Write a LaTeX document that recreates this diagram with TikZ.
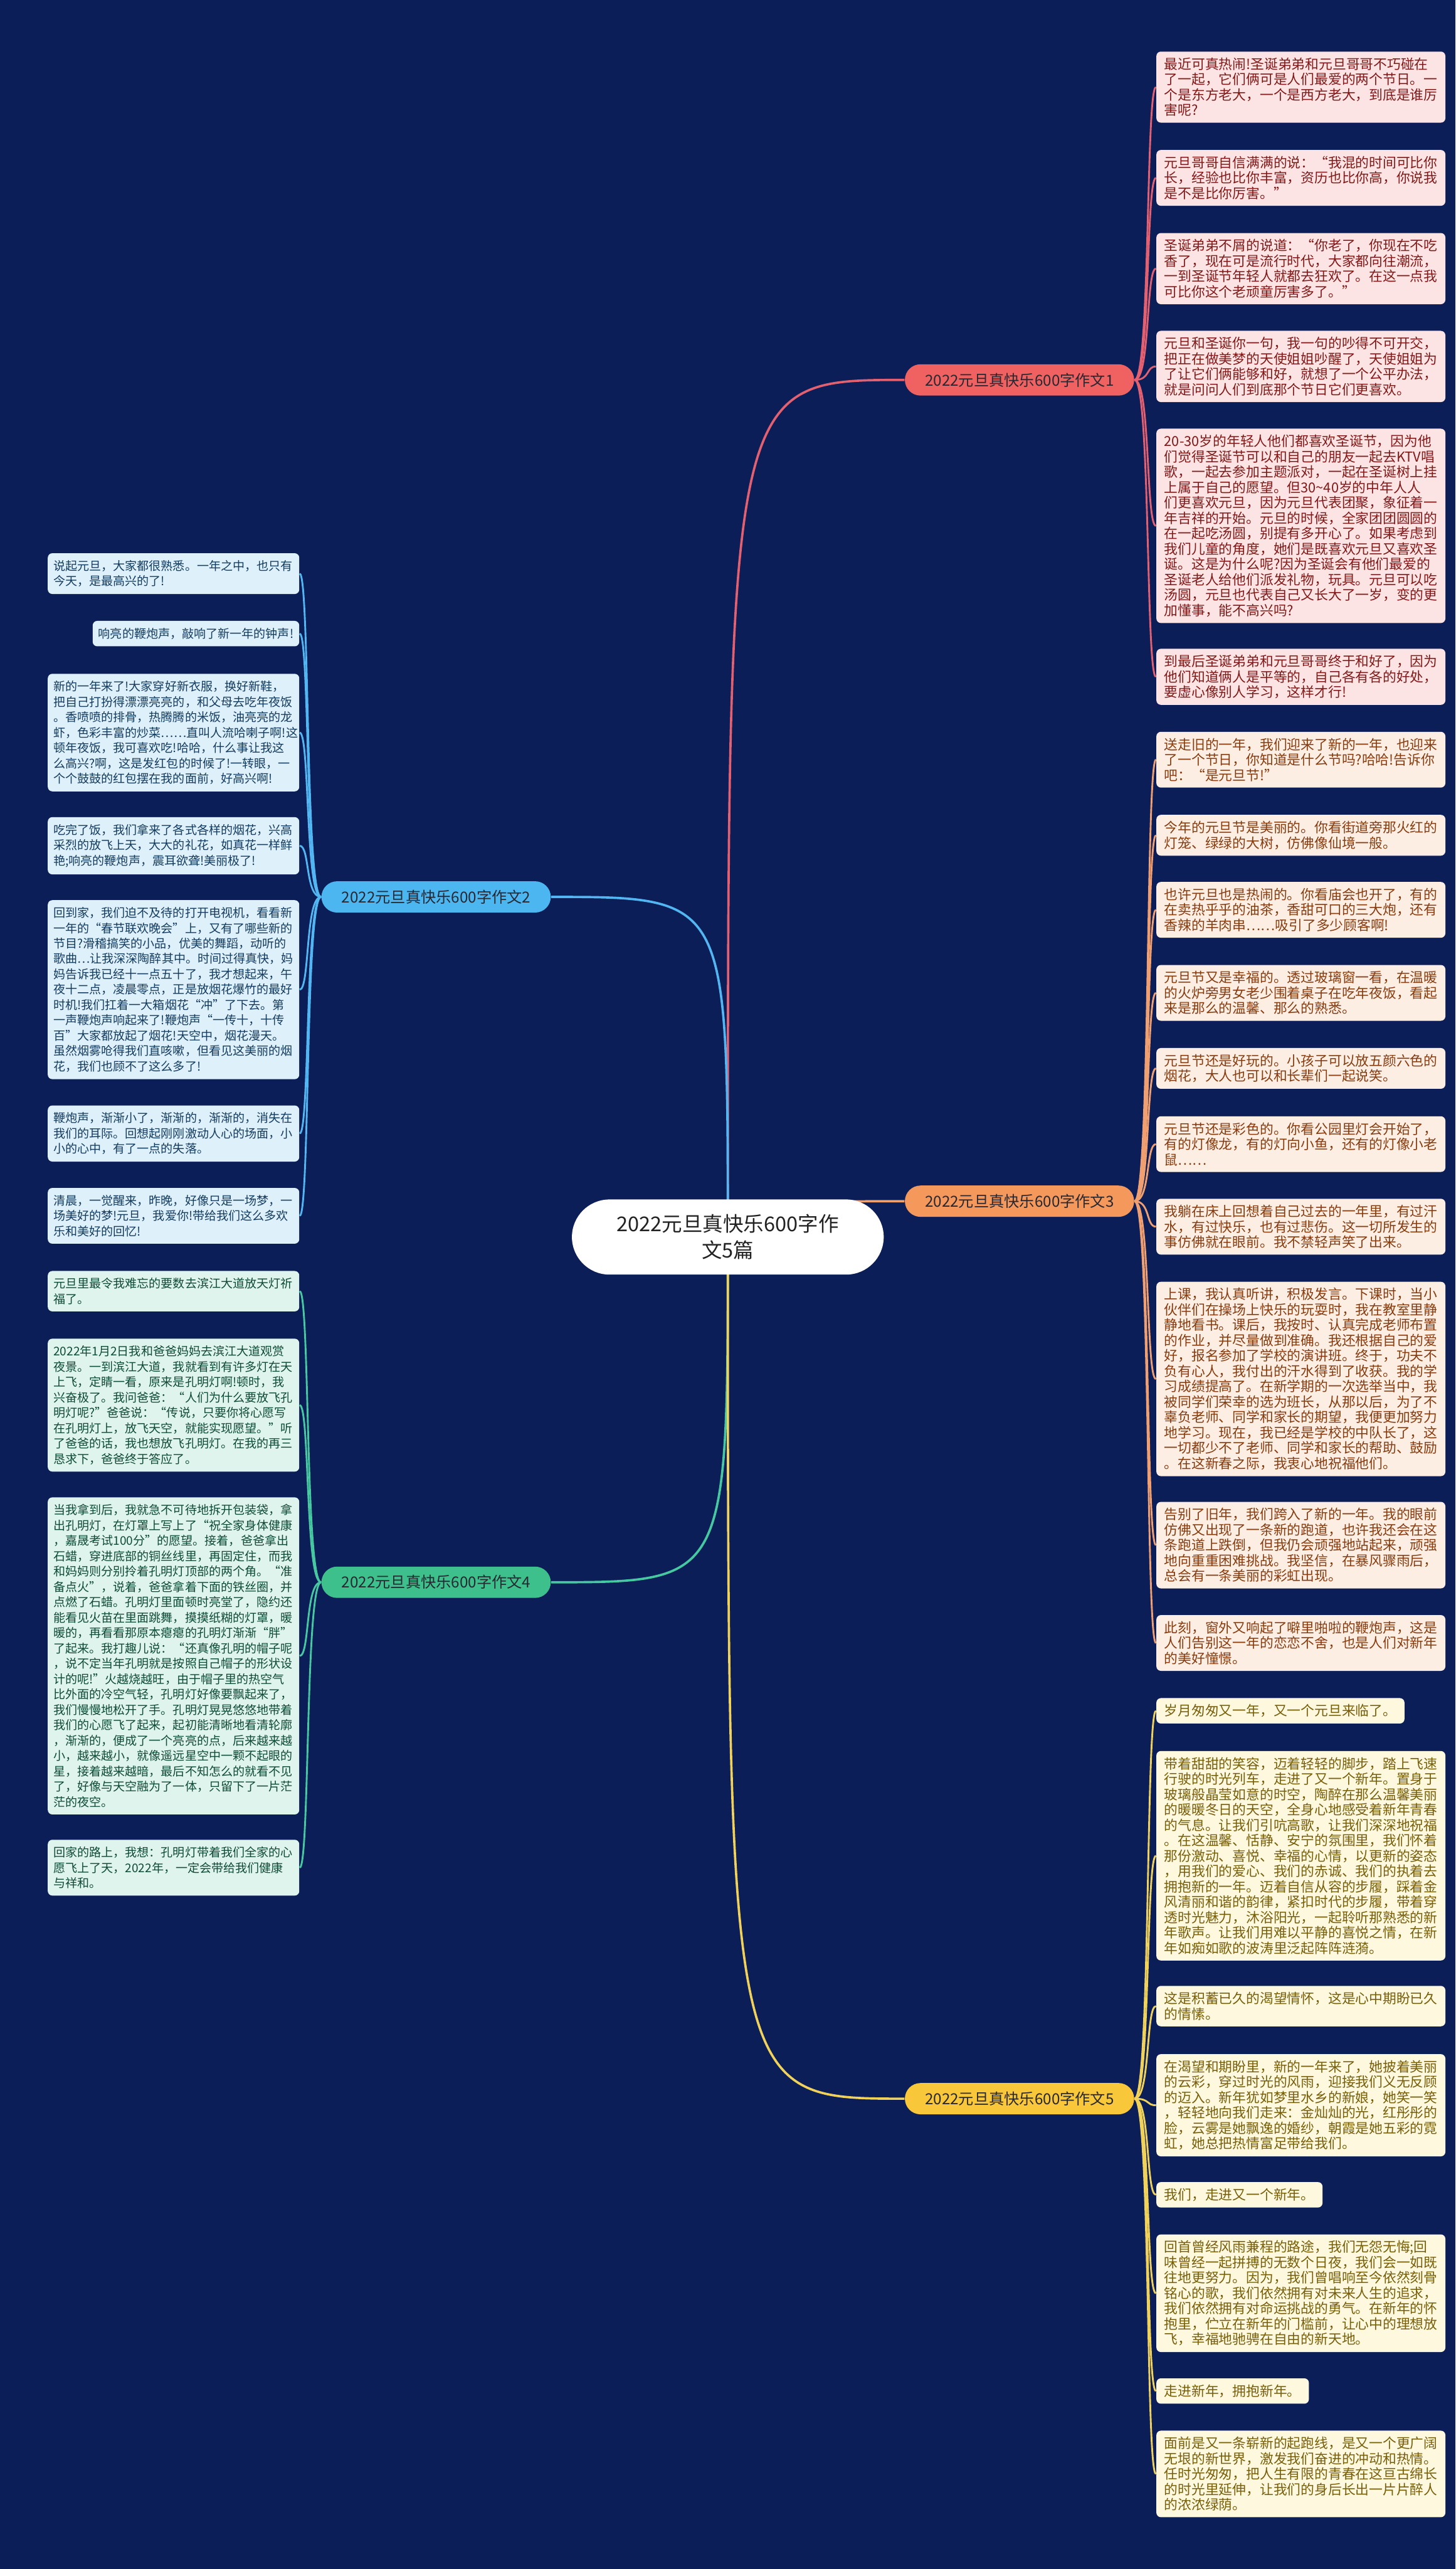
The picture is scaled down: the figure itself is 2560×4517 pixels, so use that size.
\documentclass[tikz,border=0pt]{standalone}
\usepackage{fontspec}
\setmainfont{Noto Sans CJK SC}
\usetikzlibrary{backgrounds}

\definecolor{night}{RGB}{12,30,88}
\definecolor{rootink}{RGB}{34,34,34}
\definecolor{brink}{RGB}{40,40,50}
% branch 1 (red)
\definecolor{redpill}{RGB}{240,98,98}
\definecolor{redwire}{RGB}{226,96,112}
\definecolor{redfill}{RGB}{253,228,228}
\definecolor{redink}{RGB}{130,25,25}
% branch 2 (blue)
\definecolor{bluepill}{RGB}{76,182,240}
\definecolor{bluewire}{RGB}{82,182,242}
\definecolor{bluefill}{RGB}{222,240,250}
\definecolor{blueink}{RGB}{20,60,95}
% branch 3 (orange)
\definecolor{orgpill}{RGB}{244,152,92}
\definecolor{orgwire}{RGB}{240,160,112}
\definecolor{orgfill}{RGB}{253,238,228}
\definecolor{orgink}{RGB}{135,60,15}
% branch 4 (green)
\definecolor{grnpill}{RGB}{62,192,140}
\definecolor{grnwire}{RGB}{70,200,160}
\definecolor{grnfill}{RGB}{222,244,236}
\definecolor{grnink}{RGB}{15,75,55}
% branch 5 (yellow)
\definecolor{ylwpill}{RGB}{248,199,58}
\definecolor{ylwwire}{RGB}{240,210,90}
\definecolor{ylwfill}{RGB}{253,248,222}
\definecolor{ylwink}{RGB}{120,95,10}

\begin{document}
\begin{tikzpicture}[x=0.01cm, y=-0.01cm,
    root/.style={fill=white, text=rootink, rounded corners=0.66cm, minimum width=5.48cm,
      minimum height=1.32cm, align=center, font=\fontsize{10.2pt}{13.1pt}\selectfont},
    branch/.style={rounded corners=0.275cm, minimum width=4.03cm, minimum height=0.55cm,
      inner sep=0pt, text=brink, font=\fontsize{7.6pt}{8pt}\selectfont},
    boxL/.style={rounded corners=0.08cm, inner xsep=0.1cm, inner ysep=3.5pt, align=left,
      anchor=north east, font=\fontsize{5.98pt}{7.68pt}\selectfont},
    boxR/.style={rounded corners=0.08cm, inner xsep=0.14cm, inner ysep=3.1pt, align=left,
      anchor=north west, font=\fontsize{6.83pt}{7.68pt}\selectfont},
    leafL/.style={boxL, text width=4.22cm},
    leafR/.style={boxR, text width=4.8cm},
    wire/.style={line width=0.9pt},
    trunk/.style={line width=1.15pt}]

    % Title
    \node[root](T) at (1280, 2175) {2022元旦真快乐600字作\\文5篇};

    % Branches
    \node[branch, fill=redpill](S1) at (1793, 668) {2022元旦真快乐600字作文1};
    \node[branch, fill=bluepill](S2) at (767, 1577) {2022元旦真快乐600字作文2};
    \node[branch, fill=orgpill](S3) at (1793, 2112) {2022元旦真快乐600字作文3};
    \node[branch, fill=grnpill](S4) at (767, 2782) {2022元旦真快乐600字作文4};
    \node[branch, fill=ylwpill](S5) at (1793, 3690) {2022元旦真快乐600字作文5};

    % Leaves of 1
    \node[leafR, fill=redfill, text=redink](A1) at (2033, 90) {最近可真热闹!圣诞弟弟和元旦哥哥不巧碰在\\了一起，它们俩可是人们最爱的两个节日。一\\个是东方老大，一个是西方老大，到底是谁厉\\害呢?};
    \node[leafR, fill=redfill, text=redink](A2) at (2033, 263) {元旦哥哥自信满满的说：“我混的时间可比你\\长，经验也比你丰富，资历也比你高，你说我\\是不是比你厉害。”};
    \node[leafR, fill=redfill, text=redink](A3) at (2033, 409) {圣诞弟弟不屑的说道：“你老了，你现在不吃\\香了，现在可是流行时代，大家都向往潮流，\\一到圣诞节年轻人就都去狂欢了。在这一点我\\可比你这个老顽童厉害多了。”};
    \node[leafR, fill=redfill, text=redink](A4) at (2033, 581) {元旦和圣诞你一句，我一句的吵得不可开交，\\把正在做美梦的天使姐姐吵醒了，天使姐姐为\\了让它们俩能够和好，就想了一个公平办法，\\就是问问人们到底那个节日它们更喜欢。};
    \node[leafR, fill=redfill, text=redink](A5) at (2033, 753) {20-30岁的年轻人他们都喜欢圣诞节，因为他\\们觉得圣诞节可以和自己的朋友一起去KTV唱\\歌，一起去参加主题派对，一起在圣诞树上挂\\上属于自己的愿望。但30\textasciitilde40岁的中年人人\\们更喜欢元旦，因为元旦代表团聚，象征着一\\年吉祥的开始。元旦的时候，全家团团圆圆的\\在一起吃汤圆，别提有多开心了。如果考虑到\\我们儿童的角度，她们是既喜欢元旦又喜欢圣\\诞。这是为什么呢?因为圣诞会有他们最爱的\\圣诞老人给他们派发礼物，玩具。元旦可以吃\\汤圆，元旦也代表自己又长大了一岁，变的更\\加懂事，能不高兴吗?};
    \node[leafR, fill=redfill, text=redink](A6) at (2033, 1140) {到最后圣诞弟弟和元旦哥哥终于和好了，因为\\他们知道俩人是平等的，自己各有各的好处，\\要虚心像别人学习，这样才行!};

    % Leaves of 2
    \node[leafL, fill=bluefill, text=blueink](B1) at (527, 972) {说起元旦，大家都很熟悉。一年之中，也只有\\今天，是最高兴的了!};
    \node[boxL, fill=bluefill, text=blueink](B2) at (527, 1091) {响亮的鞭炮声，敲响了新一年的钟声!};
    \node[leafL, fill=bluefill, text=blueink](B3) at (527, 1184) {新的一年来了!大家穿好新衣服，换好新鞋，\\把自己打扮得漂漂亮亮的，和父母去吃年夜饭\\。香喷喷的排骨，热腾腾的米饭，油亮亮的龙\\虾，色彩丰富的炒菜……直叫人流哈喇子啊!这\\顿年夜饭，我可喜欢吃!哈哈，什么事让我这\\么高兴?啊，这是发红包的时候了!一转眼，一\\个个鼓鼓的红包摆在我的面前，好高兴啊!};
    \node[leafL, fill=bluefill, text=blueink](B4) at (527, 1436) {吃完了饭，我们拿来了各式各样的烟花，兴高\\采烈的放飞上天，大大的礼花，如真花一样鲜\\艳;响亮的鞭炮声，震耳欲聋!美丽极了!};
    \node[leafL, fill=bluefill, text=blueink](B5) at (527, 1582) {回到家，我们迫不及待的打开电视机，看看新\\一年的“春节联欢晚会”上，又有了哪些新的\\节目?滑稽搞笑的小品，优美的舞蹈，动听的\\歌曲…让我深深陶醉其中。时间过得真快，妈\\妈告诉我已经十一点五十了，我才想起来，午\\夜十二点，凌晨零点，正是放烟花爆竹的最好\\时机!我们扛着一大箱烟花“冲”了下去。第\\一声鞭炮声响起来了!鞭炮声“一传十，十传\\百”大家都放起了烟花!天空中，烟花漫天。\\虽然烟雾呛得我们直咳嗽，但看见这美丽的烟\\花，我们也顾不了这么多了!};
    \node[leafL, fill=bluefill, text=blueink](B6) at (527, 1943) {鞭炮声，渐渐小了，渐渐的，渐渐的，消失在\\我们的耳际。回想起刚刚激动人心的场面，小\\小的心中，有了一点的失落。};
    \node[leafL, fill=bluefill, text=blueink](B7) at (527, 2088) {清晨，一觉醒来，昨晚，好像只是一场梦，一\\场美好的梦!元旦，我爱你!带给我们这么多欢\\乐和美好的回忆!};

    % Leaves of 3
    \node[leafR, fill=orgfill, text=orgink](C1) at (2033, 1286) {送走旧的一年，我们迎来了新的一年，也迎来\\了一个节日，你知道是什么节吗?哈哈!告诉你\\吧：“是元旦节!”};
    \node[leafR, fill=orgfill, text=orgink](C2) at (2033, 1432) {今年的元旦节是美丽的。你看街道旁那火红的\\灯笼、绿绿的大树，仿佛像仙境一般。};
    \node[leafR, fill=orgfill, text=orgink](C3) at (2033, 1550) {也许元旦也是热闹的。你看庙会也开了，有的\\在卖热乎乎的油茶，香甜可口的三大炮，还有\\香辣的羊肉串……吸引了多少顾客啊!};
    \node[leafR, fill=orgfill, text=orgink](C4) at (2033, 1696) {元旦节又是幸福的。透过玻璃窗一看，在温暖\\的火炉旁男女老少围着桌子在吃年夜饭，看起\\来是那么的温馨、那么的熟悉。};
    \node[leafR, fill=orgfill, text=orgink](C5) at (2033, 1842) {元旦节还是好玩的。小孩子可以放五颜六色的\\烟花，大人也可以和长辈们一起说笑。};
    \node[leafR, fill=orgfill, text=orgink](C6) at (2033, 1962) {元旦节还是彩色的。你看公园里灯会开始了，\\有的灯像龙，有的灯向小鱼，还有的灯像小老\\鼠……};
    \node[leafR, fill=orgfill, text=orgink](C7) at (2033, 2107) {我躺在床上回想着自己过去的一年里，有过汗\\水，有过快乐，也有过悲伤。这一切所发生的\\事仿佛就在眼前。我不禁轻声笑了出来。};
    \node[leafR, fill=orgfill, text=orgink](C8) at (2033, 2253) {上课，我认真听讲，积极发言。下课时，当小\\伙伴们在操场上快乐的玩耍时，我在教室里静\\静地看书。课后，我按时、认真完成老师布置\\的作业，并尽量做到准确。我还根据自己的爱\\好，报名参加了学校的演讲班。终于，功夫不\\负有心人，我付出的汗水得到了收获。我的学\\习成绩提高了。在新学期的一次选举当中，我\\被同学们荣幸的选为班长，从那以后，为了不\\辜负老师、同学和家长的期望，我便更加努力\\地学习。现在，我已经是学校的中队长了，这\\一切都少不了老师、同学和家长的帮助、鼓励\\。在这新春之际，我衷心地祝福他们。};
    \node[leafR, fill=orgfill, text=orgink](C9) at (2033, 2640) {告别了旧年，我们跨入了新的一年。我的眼前\\仿佛又出现了一条新的跑道，也许我还会在这\\条跑道上跌倒，但我仍会顽强地站起来，顽强\\地向重重困难挑战。我坚信，在暴风骤雨后，\\总会有一条美丽的彩虹出现。};
    \node[leafR, fill=orgfill, text=orgink](C10) at (2033, 2839) {此刻，窗外又响起了噼里啪啦的鞭炮声，这是\\人们告别这一年的恋恋不舍，也是人们对新年\\的美好憧憬。};

    % Leaves of 4
    \node[leafL, fill=grnfill, text=grnink](D1) at (527, 2234) {元旦里最令我难忘的要数去滨江大道放天灯祈\\福了。};
    \node[leafL, fill=grnfill, text=grnink](D2) at (527, 2353) {2022年1月2日我和爸爸妈妈去滨江大道观赏\\夜景。一到滨江大道，我就看到有许多灯在天\\上飞，定睛一看，原来是孔明灯啊!顿时，我\\兴奋极了。我问爸爸：“人们为什么要放飞孔\\明灯呢?”爸爸说：“传说，只要你将心愿写\\在孔明灯上，放飞天空，就能实现愿望。”听\\了爸爸的话，我也想放飞孔明灯。在我的再三\\恳求下，爸爸终于答应了。};
    \node[leafL, fill=grnfill, text=grnink](D3) at (527, 2632) {当我拿到后，我就急不可待地拆开包装袋，拿\\出孔明灯，在灯罩上写上了“祝全家身体健康\\，嘉晟考试100分”的愿望。接着，爸爸拿出\\石蜡，穿进底部的铜丝线里，再固定住，而我\\和妈妈则分别拎着孔明灯顶部的两个角。“准\\备点火”，说着，爸爸拿着下面的铁丝圈，并\\点燃了石蜡。孔明灯里面顿时亮堂了，隐约还\\能看见火苗在里面跳舞，摸摸纸糊的灯罩，暖\\暖的，再看看那原本瘪瘪的孔明灯渐渐“胖”\\了起来。我打趣儿说：“还真像孔明的帽子呢\\，说不定当年孔明就是按照自己帽子的形状设\\计的呢!”火越烧越旺，由于帽子里的热空气\\比外面的冷空气轻，孔明灯好像要飘起来了，\\我们慢慢地松开了手。孔明灯晃晃悠悠地带着\\我们的心愿飞了起来，起初能清晰地看清轮廓\\，渐渐的，便成了一个亮亮的点，后来越来越\\小，越来越小，就像遥远星空中一颗不起眼的\\星，接着越来越暗，最后不知怎么的就看不见\\了，好像与天空融为了一体，只留下了一片茫\\茫的夜空。};
    \node[leafL, fill=grnfill, text=grnink](D4) at (527, 3234) {回家的路上，我想：孔明灯带着我们全家的心\\愿飞上了天，2022年，一定会带给我们健康\\与祥和。};

    % Leaves of 5
    \node[boxR, fill=ylwfill, text=ylwink](E1) at (2033, 2985) {岁月匆匆又一年，又一个元旦来临了。};
    \node[leafR, fill=ylwfill, text=ylwink](E2) at (2033, 3078) {带着甜甜的笑容，迈着轻轻的脚步，踏上飞速\\行驶的时光列车，走进了又一个新年。置身于\\玻璃般晶莹如意的时空，陶醉在那么温馨美丽\\的暖暖冬日的天空，全身心地感受着新年青春\\的气息。让我们引吭高歌，让我们深深地祝福\\。在这温馨、恬静、安宁的氛围里，我们怀着\\那份激动、喜悦、幸福的心情，以更新的姿态\\，用我们的爱心、我们的赤诚、我们的执着去\\拥抱新的一年。迈着自信从容的步履，踩着金\\风清丽和谐的韵律，紧扣时代的步履，带着穿\\透时光魅力，沐浴阳光，一起聆听那熟悉的新\\年歌声。让我们用难以平静的喜悦之情，在新\\年如痴如歌的波涛里泛起阵阵涟漪。};
    \node[leafR, fill=ylwfill, text=ylwink](E3) at (2033, 3491) {这是积蓄已久的渴望情怀，这是心中期盼已久\\的情愫。};
    \node[leafR, fill=ylwfill, text=ylwink](E4) at (2033, 3611) {在渴望和期盼里，新的一年来了，她披着美丽\\的云彩，穿过时光的风雨，迎接我们义无反顾\\的迈入。新年犹如梦里水乡的新娘，她笑一笑\\，轻轻地向我们走来：金灿灿的光，红彤彤的\\脸，云雾是她飘逸的婚纱，朝霞是她五彩的霓\\虹，她总把热情富足带给我们。};
    \node[boxR, fill=ylwfill, text=ylwink](E5) at (2033, 3836) {我们，走进又一个新年。};
    \node[leafR, fill=ylwfill, text=ylwink](E6) at (2033, 3928) {回首曾经风雨兼程的路途，我们无怨无悔;回\\味曾经一起拼搏的无数个日夜，我们会一如既\\往地更努力。因为，我们曾唱响至今依然刻骨\\铭心的歌，我们依然拥有对未来人生的追求，\\我们依然拥有对命运挑战的勇气。在新年的怀\\抱里，伫立在新年的门槛前，让心中的理想放\\飞，幸福地驰骋在自由的新天地。};
    \node[boxR, fill=ylwfill, text=ylwink](E7) at (2033, 4181) {走进新年，拥抱新年。};
    \node[leafR, fill=ylwfill, text=ylwink](E8) at (2033, 4273) {面前是又一条崭新的起跑线，是又一个更广阔\\无垠的新世界，激发我们奋进的冲动和热情。\\任时光匆匆，把人生有限的青春在这亘古绵长\\的时光里延伸，让我们的身后长出一片片醉人\\的浓浓绿荫。};

    \begin{pgfonlayer}{background}
    \fill[night] (0, 0) rectangle (2560, 4517);

    % Title to branches
    \draw[trunk, redwire] (T.center) .. controls (1280, 668) .. (S1.west);
    \draw[trunk, bluewire] (T.center) .. controls (1280, 1577) .. (S2.east);
    \draw[trunk, orgwire] (T.center) .. controls (1400, 2112) .. (S3.west);
    \draw[trunk, grnwire] (T.center) .. controls (1280, 2782) .. (S4.east);
    \draw[trunk, ylwwire] (T.center) .. controls (1280, 3690) .. (S5.west);

    % Branch 1 to leaves
    \draw[wire, redwire] (S1.east) .. controls +(28,0) and +(-18,0) .. (A1.west);
    \draw[wire, redwire] (S1.east) .. controls +(28,0) and +(-18,0) .. (A2.west);
    \draw[wire, redwire] (S1.east) .. controls +(28,0) and +(-18,0) .. (A3.west);
    \draw[wire, redwire] (S1.east) .. controls +(28,0) and +(-18,0) .. (A4.west);
    \draw[wire, redwire] (S1.east) .. controls +(28,0) and +(-18,0) .. (A5.west);
    \draw[wire, redwire] (S1.east) .. controls +(28,0) and +(-18,0) .. (A6.west);

    % Branch 2 to leaves
    \draw[wire, bluewire] (S2.west) .. controls +(-28,0) and +(18,0) .. (B1.east);
    \draw[wire, bluewire] (S2.west) .. controls +(-28,0) and +(18,0) .. (B2.east);
    \draw[wire, bluewire] (S2.west) .. controls +(-28,0) and +(18,0) .. (B3.east);
    \draw[wire, bluewire] (S2.west) .. controls +(-28,0) and +(18,0) .. (B4.east);
    \draw[wire, bluewire] (S2.west) .. controls +(-28,0) and +(18,0) .. (B5.east);
    \draw[wire, bluewire] (S2.west) .. controls +(-28,0) and +(18,0) .. (B6.east);
    \draw[wire, bluewire] (S2.west) .. controls +(-28,0) and +(18,0) .. (B7.east);

    % Branch 3 to leaves
    \draw[wire, orgwire] (S3.east) .. controls +(28,0) and +(-18,0) .. (C1.west);
    \draw[wire, orgwire] (S3.east) .. controls +(28,0) and +(-18,0) .. (C2.west);
    \draw[wire, orgwire] (S3.east) .. controls +(28,0) and +(-18,0) .. (C3.west);
    \draw[wire, orgwire] (S3.east) .. controls +(28,0) and +(-18,0) .. (C4.west);
    \draw[wire, orgwire] (S3.east) .. controls +(28,0) and +(-18,0) .. (C5.west);
    \draw[wire, orgwire] (S3.east) .. controls +(28,0) and +(-18,0) .. (C6.west);
    \draw[wire, orgwire] (S3.east) .. controls +(28,0) and +(-18,0) .. (C7.west);
    \draw[wire, orgwire] (S3.east) .. controls +(28,0) and +(-18,0) .. (C8.west);
    \draw[wire, orgwire] (S3.east) .. controls +(28,0) and +(-18,0) .. (C9.west);
    \draw[wire, orgwire] (S3.east) .. controls +(28,0) and +(-18,0) .. (C10.west);

    % Branch 4 to leaves
    \draw[wire, grnwire] (S4.west) .. controls +(-28,0) and +(18,0) .. (D1.east);
    \draw[wire, grnwire] (S4.west) .. controls +(-28,0) and +(18,0) .. (D2.east);
    \draw[wire, grnwire] (S4.west) .. controls +(-28,0) and +(18,0) .. (D3.east);
    \draw[wire, grnwire] (S4.west) .. controls +(-28,0) and +(18,0) .. (D4.east);

    % Branch 5 to leaves
    \draw[wire, ylwwire] (S5.east) .. controls +(28,0) and +(-18,0) .. (E1.west);
    \draw[wire, ylwwire] (S5.east) .. controls +(28,0) and +(-18,0) .. (E2.west);
    \draw[wire, ylwwire] (S5.east) .. controls +(28,0) and +(-18,0) .. (E3.west);
    \draw[wire, ylwwire] (S5.east) .. controls +(28,0) and +(-18,0) .. (E4.west);
    \draw[wire, ylwwire] (S5.east) .. controls +(28,0) and +(-18,0) .. (E5.west);
    \draw[wire, ylwwire] (S5.east) .. controls +(28,0) and +(-18,0) .. (E6.west);
    \draw[wire, ylwwire] (S5.east) .. controls +(28,0) and +(-18,0) .. (E7.west);
    \draw[wire, ylwwire] (S5.east) .. controls +(28,0) and +(-18,0) .. (E8.west);
    \end{pgfonlayer}
\end{tikzpicture}
\end{document}
